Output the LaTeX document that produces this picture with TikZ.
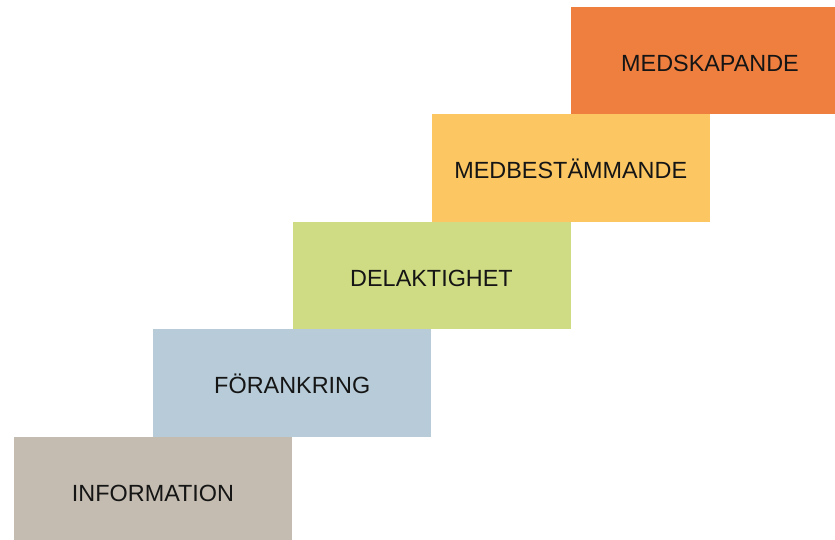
\documentclass[tikz,border=0pt]{standalone}
\usepackage{fontspec}
\setmainfont{Liberation Sans}
\usepackage{xcolor}
\usepackage{tikz}
\definecolor{infocol}{HTML}{C4BCB0}
\definecolor{forankcol}{HTML}{B7CCD8}
\definecolor{delaktcol}{HTML}{D0DC84}
\definecolor{medbestcol}{HTML}{FCC662}
\definecolor{medskapcol}{HTML}{EF7F3F}
\definecolor{labeltext}{HTML}{151515}

\begin{document}
\begin{tikzpicture}[x=1pt, y=-1pt]
\tikzstyle{stepbox}=[rectangle, minimum width=278pt, minimum height=107.5pt, inner sep=0pt, text height=21pt, text depth=0pt, text=labeltext, font=\fontsize{23.4}{28}\selectfont]
\useasboundingbox (0,0) rectangle (835,539);
\clip (0,0) rectangle (835,539);
\node[stepbox, fill=infocol] (info) at (153,490.5) {INFORMATION};
\node[stepbox, fill=forankcol] (forank) at (292.25,383) {FÖRANKRING};
\node[stepbox, fill=delaktcol] (delakt) at (431.5,275.5) {DELAKTIGHET};
\node[stepbox, fill=medbestcol] (medbest) at (570.75,168) {MEDBESTÄMMANDE};
\node[stepbox, fill=medskapcol] (medskap) at (710,60.5) {MEDSKAPANDE};
\end{tikzpicture}
\end{document}
